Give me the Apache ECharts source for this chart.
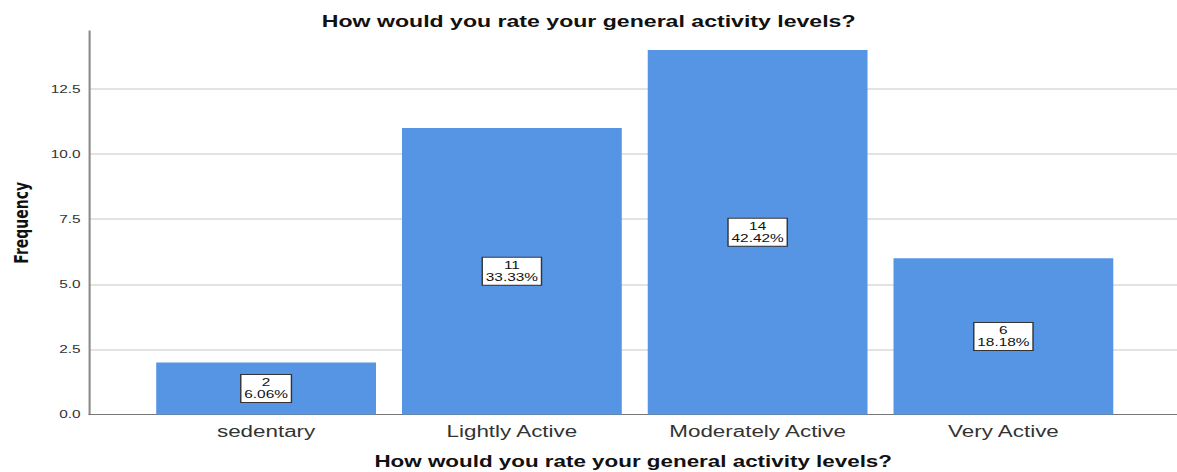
<!DOCTYPE html>
<html>
<head>
<meta charset="utf-8">
<script src="https://cdn.jsdelivr.net/npm/echarts@6/dist/echarts.min.js"></script>
<style>
  html, body { margin: 0; padding: 0; background: #fff; overflow: hidden; }
  /* the chart is laid out narrow and widened, giving the wide SPSS-style lettering */
  #chart {
    width: 840.714px; height: 472px;
    transform: scaleX(1.4); transform-origin: 0 0;
  }
</style>
</head>
<body>
<div id="chart"></div>
<script>
// Survey responses: general activity level
const chartTitle = 'How would you rate your general activity levels?';
const categories = ['sedentary', 'Lightly Active', 'Moderately Active', 'Very Active'];
const frequencies = [2, 11, 14, 6];
const percents = ['6.06%', '33.33%', '42.42%', '18.18%'];
const yTicks = [0, 2.5, 5, 7.5, 10, 12.5];

const yMax = 14.73;
const font = 'Liberation Sans, Arial, sans-serif';

const chart = echarts.init(document.getElementById('chart'), null, { renderer: 'svg' });

chart.setOption({
  animation: false,
  backgroundColor: '#ffffff',
  title: {
    text: chartTitle,
    left: 'center',
    top: 8,
    textStyle: { fontFamily: font, fontWeight: 'bold', fontSize: 16.5, color: '#111' }
  },
  grid: { left: 63.6, right: 0, top: 31, bottom: 57.5, outerBoundsMode: 'none', containLabel: false },
  xAxis: {
    type: 'value',
    min: -0.7205, max: 3.708,
    axisLine: { show: true, onZero: false, lineStyle: { color: '#777', width: 1 } },
    axisTick: { show: false },
    splitLine: { show: false },
    axisLabel: {
      customValues: categories.map((c, i) => i),
      formatter: v => categories[Math.round(v)],
      margin: 9, fontFamily: font, fontSize: 16, color: '#333'
    },
    name: chartTitle, nameLocation: 'middle', nameGap: 39,
    nameTextStyle: { fontFamily: font, fontWeight: 'bold', fontSize: 16, lineHeight: 16, color: '#111' }
  },
  yAxis: {
    type: 'value', min: yTicks[0], max: yMax, interval: yTicks[1] - yTicks[0],
    axisLine: { show: true, onZero: false, lineStyle: { color: '#8c8c8c', width: 1.5 } },
    axisTick: { show: false },
    axisLabel: {
      margin: 6, fontFamily: font, fontSize: 11, color: '#333',
      showMaxLabel: false,
      formatter: v => v.toFixed(1)
    },
    splitLine: { show: true, showMinLine: false, showMaxLine: false, lineStyle: { color: '#dadada', width: 1.5 } },
    name: 'Frequency', nameLocation: 'middle', nameGap: 41.5, nameRotate: 90,
    nameTextStyle: { fontFamily: 'DejaVu Sans, sans-serif', fontWeight: 'bold', fontSize: 14, color: '#111' }
  },
  series: [{
    type: 'bar',
    data: frequencies.map((f, i) => [i, f]),
    barWidth: 157,
    itemStyle: { color: '#5695e4' },
    label: {
      show: true,
      position: 'inside',
      formatter: p => frequencies[p.dataIndex] + '\n' + percents[p.dataIndex],
      fontFamily: font, fontSize: 11, lineHeight: 12, color: '#111',
      backgroundColor: '#ffffff', borderColor: '#333', borderWidth: 1,
      padding: [2, 2, 1, 2]
    }
  }]
});
</script>
</body>
</html>
